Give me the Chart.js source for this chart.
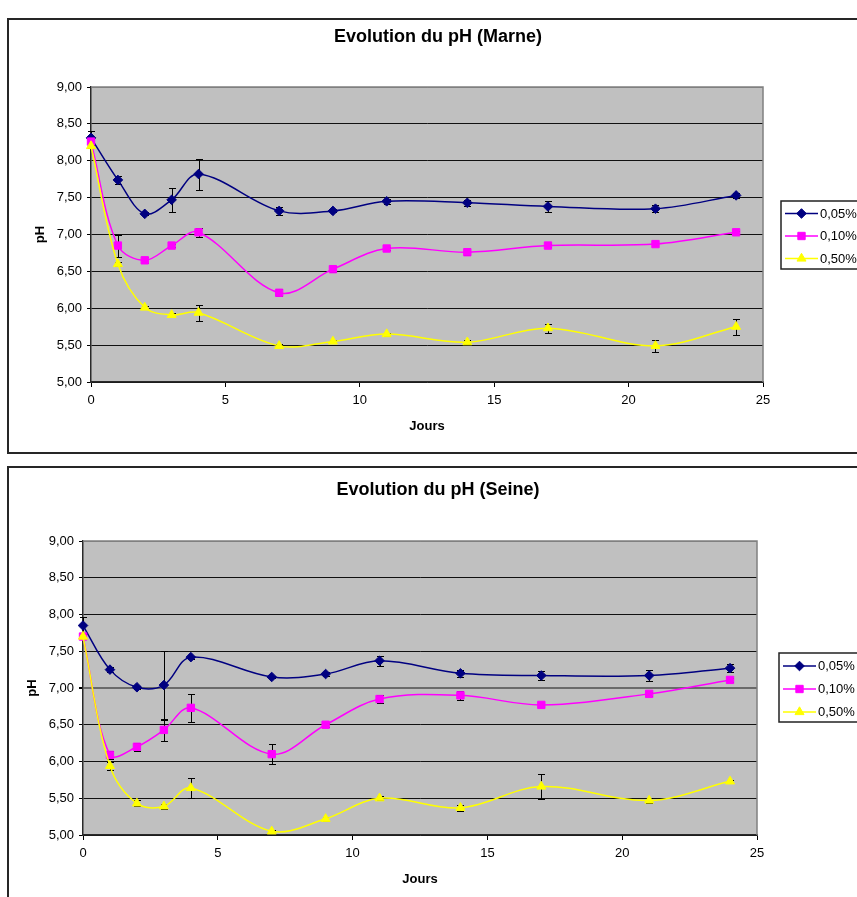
<!DOCTYPE html>
<html>
<head>
<meta charset="utf-8">
<title>Evolution du pH</title>
<script src="https://cdn.jsdelivr.net/npm/chart.js@4.4.1/dist/chart.umd.min.js"></script>
<style>
  html, body { margin: 0; padding: 0; background: #fff; }
  body { position: relative; width: 857px; height: 897px; overflow: hidden; }
  .frame { position: absolute; left: 7px; width: 880px; box-sizing: border-box; border: 2px solid #262626; }
  #f1 { top: 18px; height: 436px; }
  #f2 { top: 466px; height: 460px; }
  canvas { position: absolute; left: 0; }
  #c1 { top: 0; }
  #c2 { top: 460px; }
</style>
</head>
<body>
<div class="frame" id="f1"></div>
<div class="frame" id="f2"></div>
<canvas id="c1" width="857" height="460"></canvas>
<canvas id="c2" width="857" height="437"></canvas>
<script>
// Sampling days and series names
const days = [0, 1, 2, 3, 4, 7, 9, 11, 14, 17, 21, 24];
const seriesLabels = ['0,05%', '0,10%', '0,50%'];

// Marne: mean pH and error (±) per day
const marne005    = [8.31, 7.74, 7.28, 7.47, 7.82, 7.32, 7.32, 7.45, 7.43, 7.38, 7.35, 7.53];
const marne005Err = [0.10, 0.05, 0.02, 0.165, 0.21, 0.055, 0.02, 0.03, 0.04, 0.07, 0.05, 0.03];
const marne010    = [8.26, 6.85, 6.65, 6.85, 7.03, 6.21, 6.53, 6.81, 6.76, 6.85, 6.87, 7.03];
const marne010Err = [0.03, 0.15, 0.04, 0.02, 0.06, 0.05, 0.04, 0.02, 0.04, 0.02, 0.02, 0.02];
const marne050    = [8.20, 6.60, 6.01, 5.91, 5.94, 5.49, 5.55, 5.65, 5.54, 5.73, 5.49, 5.75];
const marne050Err = [0.03, 0.03, 0.02, 0.03, 0.11, 0.02, 0.02, 0.02, 0.03, 0.06, 0.08, 0.11];

// Seine: mean pH and error (±) per day
const seine005    = [7.85, 7.25, 7.01, 7.04, 7.42, 7.15, 7.19, 7.37, 7.20, 7.17, 7.17, 7.27];
const seine005Err = [0.12, 0.03, 0.02, 0.47, 0.02, 0.02, 0.03, 0.07, 0.05, 0.055, 0.075, 0.05];
const seine010    = [7.70, 6.09, 6.20, 6.43, 6.73, 6.10, 6.50, 6.85, 6.90, 6.77, 6.92, 7.11];
const seine010Err = [0.04, 0.05, 0.055, 0.15, 0.19, 0.14, 0.03, 0.05, 0.06, 0.03, 0.03, 0.03];
const seine050    = [7.70, 5.94, 5.43, 5.39, 5.64, 5.05, 5.22, 5.50, 5.37, 5.66, 5.47, 5.73];
const seine050Err = [0.04, 0.05, 0.04, 0.03, 0.14, 0.02, 0.03, 0.03, 0.04, 0.17, 0.03, 0.02];

// Axis ranges
const xRange = { min: 0, max: 25, step: 5 };
const yRange = { min: 5, max: 9, step: 0.5 };

const FONT = "'Liberation Sans', Arial, sans-serif";
const COLORS = ['#000080', '#FF00FF', '#FFFF00'];
const STYLES = ['rectRot', 'rect', 'triangle'];
const RADII = [4.8, 5.2, 5.2];

const toPoints = ys => days.map((d, i) => ({ x: d, y: ys[i] }));
const fmt = v => v.toFixed(2).replace('.', ',');

// Grey plot background and the lighter frame on its top and right sides
const plotArea = {
  id: 'plotArea',
  beforeDraw(chart) {
    const { ctx, chartArea: a } = chart;
    ctx.save();
    ctx.fillStyle = '#C0C0C0';
    ctx.fillRect(a.left, a.top, a.right - a.left, a.bottom - a.top);
    ctx.restore();
  },
  beforeDatasetsDraw(chart) {
    const { ctx, chartArea: a } = chart;
    ctx.save();
    ctx.strokeStyle = '#808080';
    ctx.lineWidth = 1.5;
    ctx.beginPath();
    ctx.moveTo(a.left, a.top);
    ctx.lineTo(a.right, a.top);
    ctx.lineTo(a.right, a.bottom);
    ctx.stroke();
    ctx.restore();
  }
};

// Chart heading, centred over the whole frame
const heading = {
  id: 'heading',
  afterDraw(chart, args, opts) {
    const { ctx } = chart;
    ctx.save();
    ctx.fillStyle = '#000';
    ctx.font = 'bold 18px ' + FONT;
    ctx.textAlign = 'center';
    ctx.textBaseline = 'middle';
    ctx.fillText(opts.text, opts.x, opts.y);
    ctx.restore();
  }
};

// Vertical error bars with caps, placed through the chart's scales
const errorBars = {
  id: 'errorBars',
  beforeDatasetsDraw(chart) {
    const { ctx, scales: { x, y } } = chart;
    ctx.save();
    ctx.strokeStyle = '#000';
    ctx.lineWidth = 1;
    chart.data.datasets.forEach(ds => {
      ds.data.forEach((p, i) => {
        const e = ds.errors[i];
        const px = Math.round(x.getPixelForValue(p.x)) + 0.5;
        const yt = Math.round(y.getPixelForValue(p.y + e)) + 0.5;
        const yb = Math.round(y.getPixelForValue(p.y - e)) + 0.5;
        ctx.beginPath();
        ctx.moveTo(px, yt); ctx.lineTo(px, yb);
        ctx.moveTo(px - 3.5, yt); ctx.lineTo(px + 3.5, yt);
        ctx.moveTo(px - 3.5, yb); ctx.lineTo(px + 3.5, yb);
        ctx.stroke();
      });
    });
    ctx.restore();
  }
};

function marker(ctx, style, r, x, y) {
  if (Chart.helpers && Chart.helpers.drawPoint) {
    Chart.helpers.drawPoint(ctx, { pointStyle: style, radius: r, borderWidth: 1, rotation: 0 }, x, y);
    return;
  }
  ctx.beginPath();
  if (style === 'rectRot') {
    ctx.moveTo(x, y - r); ctx.lineTo(x + r, y); ctx.lineTo(x, y + r); ctx.lineTo(x - r, y);
  } else if (style === 'rect') {
    const s = r * Math.SQRT1_2;
    ctx.rect(x - s, y - s, 2 * s, 2 * s);
  } else {
    ctx.moveTo(x, y - r); ctx.lineTo(x + r * 0.866, y + r / 2); ctx.lineTo(x - r * 0.866, y + r / 2);
  }
  ctx.closePath();
  ctx.fill();
  ctx.stroke();
}

// Boxed legend on the right of the plot
const boxLegend = {
  id: 'boxLegend',
  afterDraw(chart, args, opts) {
    const { ctx } = chart;
    const { left, top, width, height, rows } = opts;
    ctx.save();
    ctx.fillStyle = '#fff';
    ctx.fillRect(left, top, width, height);
    ctx.strokeStyle = '#222';
    ctx.lineWidth = 1.5;
    ctx.strokeRect(left, top, width, height);
    chart.data.datasets.forEach((ds, i) => {
      const yy = top + rows[i];
      ctx.strokeStyle = ds.borderColor;
      ctx.lineWidth = 1.5;
      ctx.beginPath();
      ctx.moveTo(left + 4, yy);
      ctx.lineTo(left + 37, yy);
      ctx.stroke();
      ctx.fillStyle = ds.borderColor;
      ctx.lineWidth = 1;
      marker(ctx, ds.pointStyle, ds.pointRadius, left + 20.5, yy);
      ctx.fillStyle = '#000';
      ctx.font = '13px ' + FONT;
      ctx.textAlign = 'left';
      ctx.textBaseline = 'middle';
      ctx.fillText(ds.label, left + 39, yy + 0.5);
    });
    ctx.restore();
  }
};

function buildChart(canvasId, title, series, errs, g) {
  const datasets = series.map((vals, i) => ({
    label: seriesLabels[i],
    data: toPoints(vals),
    errors: errs[i],
    borderColor: COLORS[i],
    backgroundColor: COLORS[i],
    borderWidth: 1.5,
    pointStyle: STYLES[i],
    pointRadius: RADII[i],
    pointHoverRadius: RADII[i],
    pointBorderWidth: 1,
    pointBackgroundColor: COLORS[i],
    pointBorderColor: COLORS[i],
    tension: 0.35,
    fill: false,
    clip: false,
    order: 2 - i
  }));

  return new Chart(document.getElementById(canvasId), {
    type: 'line',
    data: { datasets },
    options: {
      responsive: false,
      animation: false,
      devicePixelRatio: 1,
      events: [],
      layout: { padding: { left: g.padLeft, right: g.padRight, top: g.padTop, bottom: g.padBottom } },
      plugins: {
        legend: { display: false },
        tooltip: { enabled: false },
        title: { display: false },
        heading: { text: title, x: 438, y: g.titleY },
        boxLegend: g.legend
      },
      scales: {
        x: {
          type: 'linear',
          min: xRange.min,
          max: xRange.max,
          afterFit: s => { s.height = 52; },
          ticks: { stepSize: xRange.step, color: '#000', font: { family: FONT, size: 13 }, padding: 6, maxRotation: 0, autoSkip: false },
          grid: { drawOnChartArea: false, drawTicks: true, tickLength: 5, color: '#000' },
          border: { display: true, color: '#2a2a2a', width: 1.5 },
          title: { display: true, text: 'Jours', color: '#000', font: { family: FONT, size: 13, weight: 'bold', lineHeight: 1.2 }, padding: { top: 0, bottom: 0 } }
        },
        y: {
          min: yRange.min,
          max: yRange.max,
          afterFit: s => { s.width = 60; },
          ticks: { stepSize: yRange.step, color: '#000', font: { family: FONT, size: 13 }, padding: 5, callback: v => fmt(v) },
          grid: {
            drawTicks: true,
            tickLength: 4,
            tickColor: '#000',
            color: c => (c.tick && c.tick.value === yRange.max) ? '#808080' : (g.heavy && c.tick && c.tick.value === g.heavy ? '#6a6a6a' : '#111'),
            lineWidth: c => (g.heavy && c.tick && c.tick.value === g.heavy) ? 2 : 1
          },
          border: { display: true, color: '#2a2a2a', width: 1.5 },
          title: { display: true, text: 'pH', color: '#000', font: { family: FONT, size: 13, weight: 'bold', lineHeight: 1.2 }, padding: { top: 2, bottom: 0 } }
        }
      }
    },
    plugins: [plotArea, errorBars, boxLegend, heading]
  });
}

buildChart('c1', 'Evolution du pH (Marne)',
  [marne005, marne010, marne050],
  [marne005Err, marne010Err, marne050Err],
  { padLeft: 31, padRight: 94, padTop: 87, padBottom: 26, titleY: 37,
    legend: { left: 781, top: 201, width: 90, height: 68, rows: [12.5, 35, 57.5] } });

buildChart('c2', 'Evolution du pH (Seine)',
  [seine005, seine010, seine050],
  [seine005Err, seine010Err, seine050Err],
  { padLeft: 23, padRight: 100, padTop: 81, padBottom: 10, titleY: 30, heavy: 7,
    legend: { left: 779, top: 193, width: 92, height: 69, rows: [13, 36, 59] } });
</script>
</body>
</html>
